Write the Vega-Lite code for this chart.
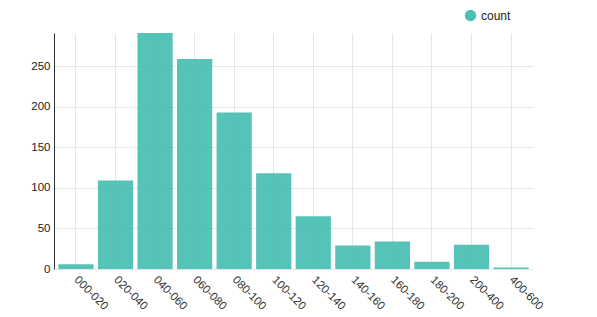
{
  "$schema": "https://vega.github.io/schema/vega-lite/v6.json",
  "autosize": {"type": "none"},
  "width": 479,
  "height": 236,
  "padding": {"left": 54, "top": 33, "right": 64, "bottom": 48},
  "config": {
    "view": {"stroke": null},
    "font": "Liberation Sans"
  },
  "data": {
    "values": [
      {"range": "000-020", "count": 6, "series": "count"},
      {"range": "020-040", "count": 109, "series": "count"},
      {"range": "040-060", "count": 291, "series": "count"},
      {"range": "060-080", "count": 259, "series": "count"},
      {"range": "080-100", "count": 193, "series": "count"},
      {"range": "100-120", "count": 118, "series": "count"},
      {"range": "120-140", "count": 65, "series": "count"},
      {"range": "140-160", "count": 29, "series": "count"},
      {"range": "160-180", "count": 34, "series": "count"},
      {"range": "180-200", "count": 9, "series": "count"},
      {"range": "200-400", "count": 30, "series": "count"},
      {"range": "400-600", "count": 2, "series": "count"}
    ]
  },
  "mark": {"type": "bar", "opacity": 0.95},
  "encoding": {
    "x": {
      "field": "range", "type": "nominal", "sort": null,
      "scale": {"paddingInner": 0.11, "paddingOuter": 0.11},
      "axis": {
        "title": null, "labelAngle": 45, "labelAlign": "left", "labelBaseline": "middle",
        "domain": false, "ticks": false, "grid": true, "gridColor": "#e6e6e6",
        "labelFontSize": 11.5, "labelColor": "#333", "labelPadding": 9, "bandPosition": 0.5
      }
    },
    "y": {
      "field": "count", "type": "quantitative",
      "scale": {"domain": [0, 291], "nice": false},
      "axis": {
        "title": null, "values": [0, 50, 100, 150, 200, 250],
        "domain": true, "domainColor": "#333", "ticks": false,
        "gridColor": "#e6e6e6", "labelFontSize": 11.5, "labelColor": "#222", "labelPadding": 4
      }
    },
    "color": {
      "field": "series", "type": "nominal",
      "scale": {"range": ["#4cc0b3"]},
      "legend": {
        "title": null, "orient": "none", "legendX": 410, "legendY": -24,
        "symbolType": "circle", "symbolSize": 130, "symbolOpacity": 1,
        "labelFontSize": 12, "labelColor": "#222"
      }
    }
  }
}
